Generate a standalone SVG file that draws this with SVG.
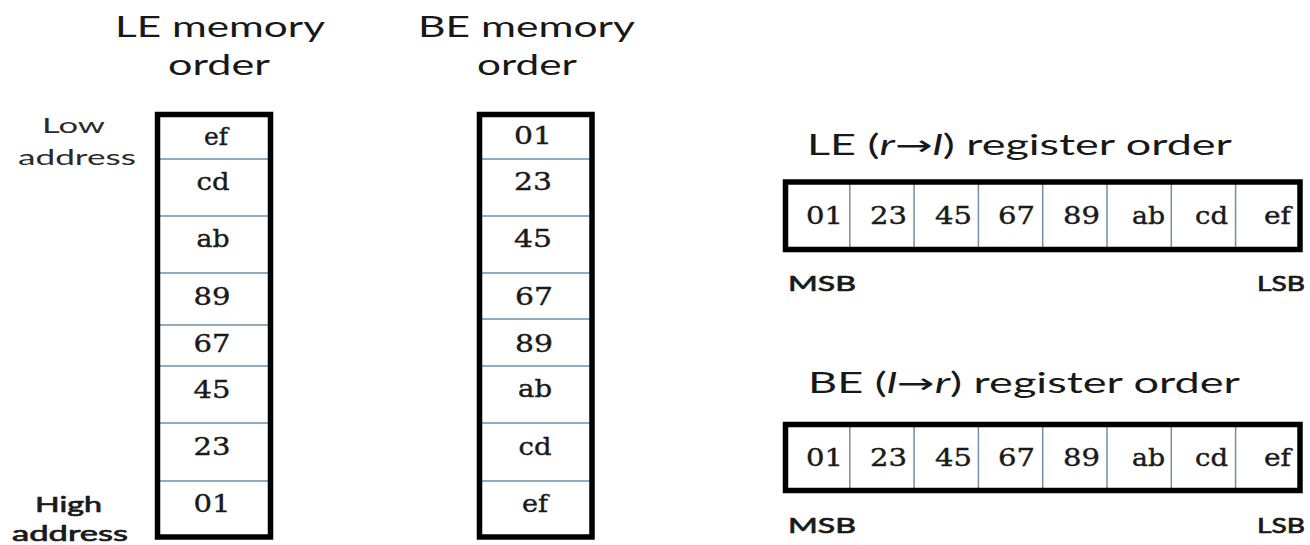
<svg xmlns="http://www.w3.org/2000/svg" width="1310" height="545" viewBox="0 0 1310 545">
  <style>
    .title { font-family: Lato, "Open Sans", "Liberation Sans", sans-serif; font-size: 28px; fill: #181818; }
    .lbl { font-family: Lato, "Open Sans", "Liberation Sans", sans-serif; font-size: 21px; fill: #2a2a2a; }
    .lblb { font-family: Lato, "Open Sans", "Liberation Sans", sans-serif; font-size: 22px; fill: #1a1a1a; stroke: #1a1a1a; stroke-width: 0.7; }
    .cell { font-family: "DejaVu Serif", "Liberation Serif", serif; font-size: 25px; fill: #1a1a1a; stroke: #1a1a1a; stroke-width: 0.4; }
    .mc { text-anchor: middle; }
    .rc { text-anchor: end; }
    .box { fill: none; stroke: #000; stroke-width: 5.5; }
    .bg { fill: #fff; }
    .div { stroke: #6f8fa8; stroke-width: 1.5; }
    .arrow { font-family: "DejaVu Sans", sans-serif; font-style: normal; }
  </style>
  <rect width="1310" height="545" fill="#fff"/>

  <g id="connectors"/>

  <g id="le-memory">
    <text class="title" x="115" y="37" textLength="210" lengthAdjust="spacingAndGlyphs">LE memory</text>
    <text class="title" x="168" y="75" textLength="102" lengthAdjust="spacingAndGlyphs">order</text>
    <text class="lbl" x="42" y="133" textLength="63" lengthAdjust="spacingAndGlyphs">Low</text>
    <text class="lbl" x="18" y="165" textLength="118" lengthAdjust="spacingAndGlyphs">address</text>
    <text class="lblb" x="35" y="512" textLength="67" lengthAdjust="spacingAndGlyphs">High</text>
    <text class="lblb" x="12" y="541" textLength="116" lengthAdjust="spacingAndGlyphs">address</text>
    <rect class="bg" x="157.5" y="114.5" width="113" height="422.5"/>
    <g class="div">
      <line x1="160" y1="159" x2="268" y2="159"/>
      <line x1="160" y1="216" x2="268" y2="216"/>
      <line x1="160" y1="273" x2="268" y2="273"/>
      <line x1="160" y1="325" x2="268" y2="325"/>
      <line x1="160" y1="366" x2="268" y2="366"/>
      <line x1="160" y1="423" x2="268" y2="423"/>
      <line x1="160" y1="481" x2="268" y2="481"/>
    </g>
    <rect class="box" x="157.5" y="114.5" width="113" height="422.5"/>
    <text class="cell mc" x="216" y="145" textLength="24" lengthAdjust="spacingAndGlyphs">ef</text>
    <text class="cell mc" x="213" y="190" textLength="33" lengthAdjust="spacingAndGlyphs">cd</text>
    <text class="cell mc" x="213" y="247" textLength="33" lengthAdjust="spacingAndGlyphs">ab</text>
    <text class="cell mc" x="212" y="305" textLength="37" lengthAdjust="spacingAndGlyphs">89</text>
    <text class="cell mc" x="212" y="352" textLength="37" lengthAdjust="spacingAndGlyphs">67</text>
    <text class="cell mc" x="212" y="398" textLength="37" lengthAdjust="spacingAndGlyphs">45</text>
    <text class="cell mc" x="212" y="455" textLength="37" lengthAdjust="spacingAndGlyphs">23</text>
    <text class="cell mc" x="212" y="512" textLength="37" lengthAdjust="spacingAndGlyphs">01</text>
  </g>

  <g id="be-memory">
    <text class="title" x="418" y="37" textLength="217" lengthAdjust="spacingAndGlyphs">BE memory</text>
    <text class="title" x="477" y="75" textLength="100" lengthAdjust="spacingAndGlyphs">order</text>
    <rect class="bg" x="479.5" y="114.5" width="112.5" height="422.5"/>
    <g class="div">
      <line x1="482" y1="159" x2="590" y2="159"/>
      <line x1="482" y1="216" x2="590" y2="216"/>
      <line x1="482" y1="273" x2="590" y2="273"/>
      <line x1="482" y1="319" x2="590" y2="319"/>
      <line x1="482" y1="366" x2="590" y2="366"/>
      <line x1="482" y1="423" x2="590" y2="423"/>
      <line x1="482" y1="481" x2="590" y2="481"/>
    </g>
    <rect class="box" x="479.5" y="114.5" width="112.5" height="422.5"/>
    <text class="cell mc" x="533" y="144" textLength="38" lengthAdjust="spacingAndGlyphs">01</text>
    <text class="cell mc" x="533" y="190" textLength="38" lengthAdjust="spacingAndGlyphs">23</text>
    <text class="cell mc" x="533" y="247" textLength="38" lengthAdjust="spacingAndGlyphs">45</text>
    <text class="cell mc" x="534" y="305" textLength="38" lengthAdjust="spacingAndGlyphs">67</text>
    <text class="cell mc" x="534" y="352" textLength="38" lengthAdjust="spacingAndGlyphs">89</text>
    <text class="cell mc" x="535" y="397" textLength="34" lengthAdjust="spacingAndGlyphs">ab</text>
    <text class="cell mc" x="535" y="455" textLength="33" lengthAdjust="spacingAndGlyphs">cd</text>
    <text class="cell mc" x="535" y="512" textLength="26" lengthAdjust="spacingAndGlyphs">ef</text>
  </g>

  <g id="le-register">
    <text class="title" x="807" y="155" textLength="425" lengthAdjust="spacingAndGlyphs">LE (<tspan font-style="italic">r</tspan><tspan class="arrow">→</tspan><tspan font-style="italic">l</tspan>) register order</text>
    <rect class="bg" x="785.5" y="182" width="514.5" height="67.5"/>
    <g class="div">
      <line x1="849.8" y1="184" x2="849.8" y2="247"/>
      <line x1="914.1" y1="184" x2="914.1" y2="247"/>
      <line x1="978.4" y1="184" x2="978.4" y2="247"/>
      <line x1="1042.7" y1="184" x2="1042.7" y2="247"/>
      <line x1="1107" y1="184" x2="1107" y2="247"/>
      <line x1="1171.3" y1="184" x2="1171.3" y2="247"/>
      <line x1="1235.6" y1="184" x2="1235.6" y2="247"/>
    </g>
    <rect class="box" x="785.5" y="182" width="514.5" height="67.5"/>
    <text class="cell rc" x="843" y="224" textLength="37" lengthAdjust="spacingAndGlyphs">01</text>
    <text class="cell rc" x="907" y="224" textLength="37" lengthAdjust="spacingAndGlyphs">23</text>
    <text class="cell rc" x="972" y="224" textLength="37" lengthAdjust="spacingAndGlyphs">45</text>
    <text class="cell rc" x="1035" y="224" textLength="37" lengthAdjust="spacingAndGlyphs">67</text>
    <text class="cell rc" x="1100" y="224" textLength="37" lengthAdjust="spacingAndGlyphs">89</text>
    <text class="cell rc" x="1165" y="224" textLength="33" lengthAdjust="spacingAndGlyphs">ab</text>
    <text class="cell rc" x="1228" y="224" textLength="33" lengthAdjust="spacingAndGlyphs">cd</text>
    <text class="cell rc" x="1291" y="224" textLength="27" lengthAdjust="spacingAndGlyphs">ef</text>
    <text class="lblb" x="788" y="291" textLength="68" lengthAdjust="spacingAndGlyphs">MSB</text>
    <text class="lblb" x="1257" y="291" textLength="48" lengthAdjust="spacingAndGlyphs">LSB</text>
  </g>

  <g id="be-register">
    <text class="title" x="808" y="393" textLength="432" lengthAdjust="spacingAndGlyphs">BE (<tspan font-style="italic">l</tspan><tspan class="arrow">→</tspan><tspan font-style="italic">r</tspan>) register order</text>
    <rect class="bg" x="785.5" y="424.5" width="514.5" height="66"/>
    <g class="div">
      <line x1="849.8" y1="427" x2="849.8" y2="488"/>
      <line x1="914.1" y1="427" x2="914.1" y2="488"/>
      <line x1="978.4" y1="427" x2="978.4" y2="488"/>
      <line x1="1042.7" y1="427" x2="1042.7" y2="488"/>
      <line x1="1107" y1="427" x2="1107" y2="488"/>
      <line x1="1171.3" y1="427" x2="1171.3" y2="488"/>
      <line x1="1235.6" y1="427" x2="1235.6" y2="488"/>
    </g>
    <rect class="box" x="785.5" y="424.5" width="514.5" height="66"/>
    <text class="cell rc" x="843" y="466" textLength="37" lengthAdjust="spacingAndGlyphs">01</text>
    <text class="cell rc" x="907" y="466" textLength="37" lengthAdjust="spacingAndGlyphs">23</text>
    <text class="cell rc" x="972" y="466" textLength="37" lengthAdjust="spacingAndGlyphs">45</text>
    <text class="cell rc" x="1035" y="466" textLength="37" lengthAdjust="spacingAndGlyphs">67</text>
    <text class="cell rc" x="1100" y="466" textLength="37" lengthAdjust="spacingAndGlyphs">89</text>
    <text class="cell rc" x="1165" y="466" textLength="33" lengthAdjust="spacingAndGlyphs">ab</text>
    <text class="cell rc" x="1228" y="466" textLength="33" lengthAdjust="spacingAndGlyphs">cd</text>
    <text class="cell rc" x="1291" y="466" textLength="27" lengthAdjust="spacingAndGlyphs">ef</text>
    <text class="lblb" x="788" y="533" textLength="68" lengthAdjust="spacingAndGlyphs">MSB</text>
    <text class="lblb" x="1257" y="533" textLength="48" lengthAdjust="spacingAndGlyphs">LSB</text>
  </g>
</svg>
